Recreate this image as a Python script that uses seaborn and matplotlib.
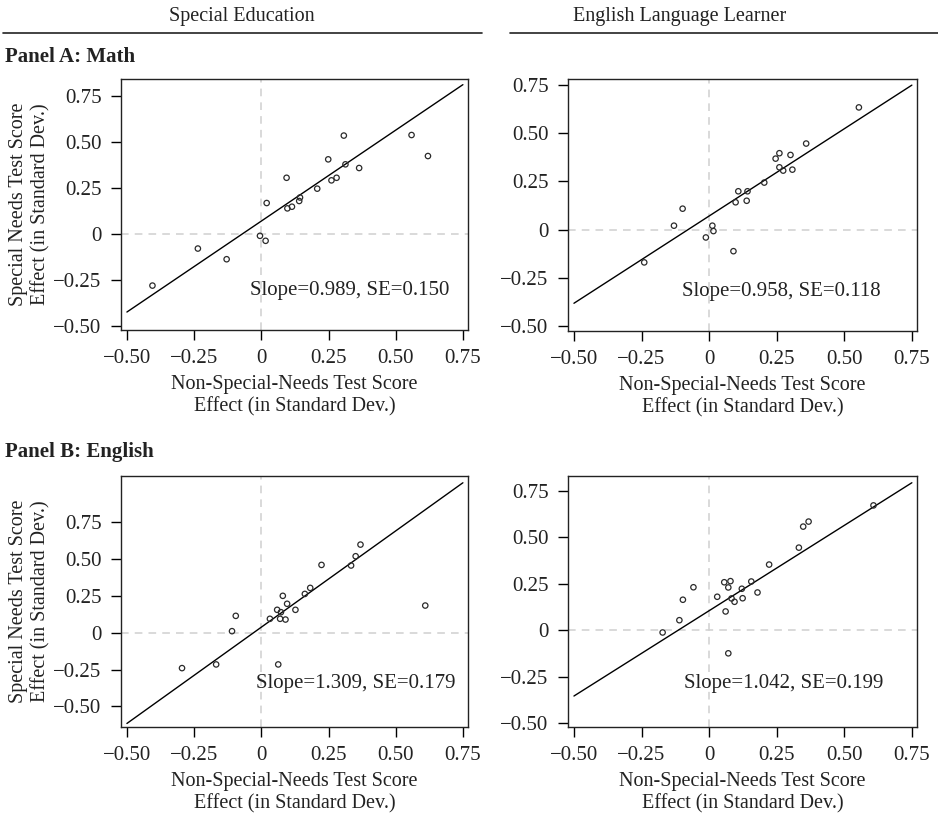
import numpy as np
import pandas as pd
import seaborn as sns
import matplotlib.pyplot as plt
from matplotlib.lines import Line2D

# Panel A: Math, Special Education
math_sped_x = [-0.405, -0.236, -0.129, -0.005, 0.016, 0.020, 0.094, 0.097, 0.114, 0.141,
               0.144, 0.208, 0.249, 0.261, 0.280, 0.307, 0.313, 0.364, 0.559, 0.620]
math_sped_y = [-0.281, -0.080, -0.138, -0.011, -0.038, 0.167, 0.304, 0.138, 0.147, 0.178,
               0.197, 0.245, 0.404, 0.290, 0.304, 0.533, 0.377, 0.357, 0.536, 0.422]

# Panel A: Math, English Language Learner
math_ell_x = [-0.240, -0.130, -0.098, -0.012, 0.012, 0.016, 0.090, 0.098, 0.108, 0.139,
              0.142, 0.204, 0.246, 0.260, 0.260, 0.274, 0.301, 0.308, 0.359, 0.554]
math_ell_y = [-0.169, 0.021, 0.109, -0.040, 0.021, -0.007, -0.111, 0.142, 0.199, 0.150,
              0.199, 0.244, 0.368, 0.396, 0.323, 0.306, 0.387, 0.311, 0.446, 0.633]

# Panel B: English, Special Education
eng_sped_x = [-0.295, -0.168, -0.109, -0.095, 0.032, 0.059, 0.063, 0.070, 0.073, 0.080,
              0.090, 0.096, 0.127, 0.162, 0.182, 0.224, 0.334, 0.351, 0.369, 0.610]
eng_sped_y = [-0.240, -0.215, 0.011, 0.115, 0.095, 0.156, -0.215, 0.095, 0.140, 0.251,
              0.090, 0.197, 0.156, 0.264, 0.305, 0.461, 0.457, 0.520, 0.599, 0.185]

# Panel B: English, English Language Learner
eng_ell_x = [-0.172, -0.110, -0.097, -0.058, 0.030, 0.056, 0.061, 0.071, 0.071, 0.079,
             0.083, 0.094, 0.121, 0.124, 0.156, 0.179, 0.222, 0.332, 0.348, 0.368, 0.608]
eng_ell_y = [-0.011, 0.055, 0.165, 0.232, 0.181, 0.259, 0.102, 0.231, -0.123, 0.265,
             0.172, 0.154, 0.224, 0.173, 0.263, 0.204, 0.354, 0.445, 0.558, 0.585, 0.672]

# fitted lines (slope, intercept as drawn) and annotation text
line_slopes = [0.987, 0.903, 1.308, 0.917]
line_intercepts = [0.069, 0.071, 0.038, 0.106]
slope_labels = ["Slope=0.989, SE=0.150", "Slope=0.958, SE=0.118",
                "Slope=1.309, SE=0.179", "Slope=1.042, SE=0.199"]

ticks = [-0.50, -0.25, 0, 0.25, 0.50, 0.75]
tick_labels = ["\u22120.50", "\u22120.25", "0", "0.25", "0.50", "0.75"]

sns.set_style("ticks")
plt.rcParams['font.family'] = ['Liberation Serif', 'DejaVu Serif']

fig = plt.figure(figsize=(9.38, 8.13), dpi=100)

W, H = 938, 813
def px_axes(left, top, right, bottom):
    return fig.add_axes([left / W, 1 - bottom / H, (right - left) / W, (bottom - top) / H])

axes = [
    px_axes(121, 79, 468, 330),
    px_axes(568, 79, 917, 331),
    px_axes(121, 476, 468, 727),
    px_axes(568, 476, 917, 727),
]
ylims = [(-0.522, 0.84), (-0.524, 0.78), (-0.64, 1.065), (-0.519, 0.83)]
data = [(math_sped_x, math_sped_y), (math_ell_x, math_ell_y),
        (eng_sped_x, eng_sped_y), (eng_ell_x, eng_ell_y)]
text_pos = [(0.33, -0.31), (0.266, -0.32), (0.35, -0.346), (0.277, -0.286)]

for i, ax in enumerate(axes):
    xs, ys = data[i]
    df = pd.DataFrame({"x": xs, "y": ys})
    ax.axvline(0, color="#d0d0d0", lw=1.1, ls=(0, (5, 4)), zorder=1)
    ax.axhline(0, color="#d0d0d0", lw=1.1, ls=(0, (5, 4)), zorder=1)
    line_x = np.array([-0.5, 0.75])
    line_df = pd.DataFrame({"x": line_x, "y": line_intercepts[i] + line_slopes[i] * line_x})
    sns.lineplot(data=line_df, x="x", y="y", ax=ax, color="black", lw=1.0, zorder=2)
    sns.scatterplot(data=df, x="x", y="y", ax=ax, marker="o", s=15,
                    facecolor="none", edgecolor="#2a2a2a", linewidth=0.9, zorder=3)
    ax.set_xlim(-0.522, 0.769)
    ax.set_ylim(*ylims[i])
    ax.set_xticks(ticks)
    ax.set_xticklabels(tick_labels)
    ax.set_yticks(ticks)
    ax.set_yticklabels(tick_labels)
    ax.tick_params(axis="both", direction="out", length=7, width=1, labelsize=15,
                   color="black", labelcolor="#222222", pad=7)
    for sp in ax.spines.values():
        sp.set_linewidth(1.0)
        sp.set_color("#222222")
    ax.set_xlabel("Non-Special-Needs Test Score\nEffect (in Standard Dev.)", fontsize=14.5,
                  color="#222222", labelpad=5, linespacing=1.22)
    if i % 2 == 0:
        ax.set_ylabel("Special Needs Test Score\nEffect (in Standard Dev.)", fontsize=14.5,
                      color="#222222", labelpad=2, linespacing=1.22)
    else:
        ax.set_ylabel("")
    ax.text(text_pos[i][0], text_pos[i][1], slope_labels[i], fontsize=15,
            color="#222222", ha="center", va="center")

# column headers with rules
fig.text(242 / W, 1 - 17 / H, "Special Education", ha="center", va="center",
         fontsize=14.5, color="#222222")
fig.text(680 / W, 1 - 17 / H, "English Language Learner", ha="center", va="center",
         fontsize=14.5, color="#222222")
fig.add_artist(Line2D([3 / W, 482 / W], [1 - 33 / H, 1 - 33 / H], color="#222222", lw=1.2))
fig.add_artist(Line2D([510 / W, 938 / W], [1 - 33 / H, 1 - 33 / H], color="#222222", lw=1.2))

fig.text(5 / W, 1 - 57 / H, "Panel A: Math", ha="left", va="center",
         fontsize=15, fontweight="bold", color="#222222")
fig.text(5 / W, 1 - 452 / H, "Panel B: English", ha="left", va="center",
         fontsize=15, fontweight="bold", color="#222222")

fig.savefig("out.png", dpi=100, facecolor="white")
